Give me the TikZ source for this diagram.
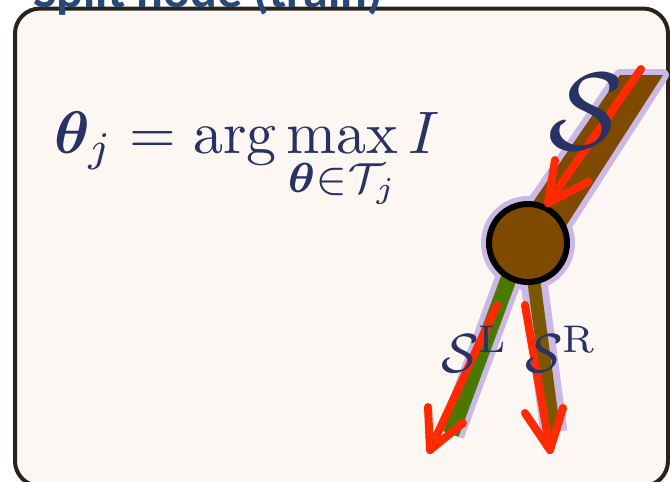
\documentclass[tikz,border=0pt]{standalone}
\usepackage{fontspec}
\usepackage{amsmath,bm}
\newfontfamily\titlefont{Carlito}
\definecolor{frameC}{RGB}{41,36,26}
\definecolor{paper}{RGB}{252,247,243}
\definecolor{titleC}{RGB}{40,72,120}
\definecolor{mathC}{RGB}{40,50,100}
\definecolor{redC}{RGB}{255,42,0}
\definecolor{glowC}{RGB}{203,184,230}
\definecolor{brownC}{RGB}{126,74,0}
\definecolor{greenC}{RGB}{74,120,0}
\definecolor{oliveC}{RGB}{122,88,0}
\tikzset{
  redarrow/.style={draw=redC, line width=8pt, line cap=round, line join=round},
  glowline/.style={draw=glowC, line width=27pt, line cap=butt},
  mathlabel/.style={text=mathC, inner sep=0pt, anchor=base west},
}
\begin{document}
\begin{tikzpicture}[x=1pt,y=-1pt]
\useasboundingbox (0,0) rectangle (670,482);
\fill[white] (0,0) rectangle (670,482);
% frame
\draw[frameC, line width=4pt, fill=paper, rounded corners=25pt] (15,8.5) rectangle (668,486);
% title
\node[text=titleC, inner sep=0pt, anchor=base west, font=\titlefont\bfseries\fontsize{50}{50}\selectfont] (title) at (33,7) {Split node (train)};
% formula
\node[mathlabel] (formula) at (54,153)
  {\scalebox{6}{$\displaystyle \bm{\theta}_j = \arg\max_{\bm{\theta}\in\mathcal{T}_j} I$}};
% coordinates
\coordinate (tA) at (620,75);
\coordinate (tB) at (663,75);
\coordinate (tC) at (555,243);
\coordinate (tD) at (505,243);
\coordinate (ctr) at (528,243);
\coordinate (gTop) at (510,275);
\coordinate (gBot) at (451,434);
\coordinate (bTop) at (533,275);
\coordinate (bBot) at (554,432);
% glow
\fill[glowC, draw=glowC, line width=12pt, line join=round] (tA) -- (tB) -- (tC) -- (tD) -- cycle;
\draw[glowline] (gTop) -- (gBot);
\draw[glowline] (bTop) -- (bBot);
\fill[glowC] (ctr) circle (47);
% trunk and branches
\fill[brownC] (tA) -- (tB) -- (tC) -- (tD) -- cycle;
\draw[greenC, line width=16pt] (gTop) -- (gBot);
\draw[oliveC, line width=13pt] (bTop) -- (bBot);
% node circle
\node[circle, draw=black, line width=6pt, fill=brownC, minimum size=78pt, inner sep=0pt] (split) at (ctr) {};
% red arrows
\coordinate (a1s) at (641,69);
\coordinate (a1t) at (548,203);
\coordinate (a1l) at (555,160);
\coordinate (a1r) at (588,182);
\draw[redarrow] (a1s) -- (a1t);
\draw[redarrow] (a1l) -- (a1t) -- (a1r);
\coordinate (a2s) at (497,305);
\coordinate (a2t) at (430,450);
\coordinate (a2l) at (428,407);
\coordinate (a2r) at (463,423);
\draw[redarrow] (a2s) -- (a2t);
\draw[redarrow] (a2l) -- (a2t) -- (a2r);
\coordinate (a3s) at (525,305);
\coordinate (a3t) at (550,450);
\coordinate (a3l) at (525,413);
\coordinate (a3r) at (563,408);
\draw[redarrow] (a3s) -- (a3t);
\draw[redarrow] (a3l) -- (a3t) -- (a3r);
% labels
\node[mathlabel] (sTop) at (548,149) {\scalebox{11}{$\mathcal{S}$}};
\node[mathlabel] (sL) at (441,372) {\scalebox{5.5}{$\mathcal{S}^{\mathrm{L}}$}};
\node[mathlabel] (sR) at (525,372) {\scalebox{5.5}{$\mathcal{S}^{\mathrm{R}}$}};
\end{tikzpicture}
\end{document}
